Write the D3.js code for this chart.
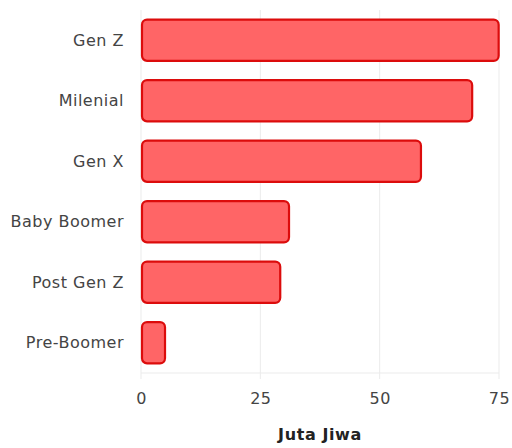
<!DOCTYPE html>
<meta charset="utf-8">
<style>
    body { margin: 0; background: #fff; }
    svg text { font-family: "DejaVu Sans", "Noto Sans", sans-serif; }
</style>
<body>
<div id="canvas"></div>
<script src="https://d3js.org/d3.v7.min.js"></script>
<script>

// generations and population (juta jiwa)
var categories = ["Gen Z", "Milenial", "Gen X", "Baby Boomer", "Post Gen Z", "Pre-Boomer"];
var values = [74.93, 69.38, 58.65, 31.01, 29.17, 5.03];
var xTicks = [0, 25, 50, 75];
var xTitle = "Juta Jiwa";

var data = categories.map(function(c, i){ return { name: c, value: values[i] }; });

var margin = {top: 10, right: 13, bottom: 75, left: 141};
var width = 512 - margin.left - margin.right,
    height = 448 - margin.top - margin.bottom;

var svg = d3.select("#canvas").append("svg")
    .attr("width", 512)
    .attr("height", 448);

var g = svg.append("g")
    .attr("transform", "translate(" + margin.left + "," + margin.top + ")");

//scales
var x = d3.scaleLinear().domain([0, 75]).range([0, 358]);
var y = d3.scaleBand().domain(categories).range([0, height]).paddingInner(0.32).paddingOuter(0.16);

// grid
g.selectAll(".vgrid")
    .data(xTicks)
    .enter().append("line")
        .attr("x1", function(d){ return x(d); })
        .attr("x2", function(d){ return x(d); })
        .attr("y1", 0)
        .attr("y2", height + 6)
        .attr("stroke", "#ebebeb")
        .attr("stroke-width", 1);

g.append("line")
    .attr("x1", 0).attr("x2", x(75))
    .attr("y1", height).attr("y2", height)
    .attr("stroke", "#ebebeb");

// bars
g.selectAll("rect.bar")
    .data(data)
    .enter().append("rect")
        .attr("class", "bar")
        .attr("x", 1)
        .attr("y", function(d){ return y(d.name); })
        .attr("width", function(d){ return x(d.value) - 1; })
        .attr("height", y.bandwidth())
        .attr("rx", 5)
        .attr("fill", "#ff6566")
        .attr("stroke", "#dc0c0c")
        .attr("stroke-width", 2.2);

// y labels
g.selectAll(".ylab")
    .data(categories)
    .enter().append("text")
        .attr("x", -17)
        .attr("y", function(d){ return y(d) + y.bandwidth() / 2; })
        .attr("dy", "0.35em")
        .attr("text-anchor", "end")
        .attr("fill", "#444")
        .style("font-size", "16px")
        .style("letter-spacing", "0.5px")
        .text(function(d){ return d; });

// x axis
var xAxis = g.append("g")
    .attr("transform", "translate(0," + height + ")")
    .call(d3.axisBottom(x).tickValues(xTicks).tickSize(0).tickPadding(20));
xAxis.select(".domain").remove();
xAxis.selectAll("text")
    .attr("fill", "#444")
    .style("font-size", "16px")
    .style("letter-spacing", "0.5px")
    .style("font-family", "\"DejaVu Sans\", sans-serif");

g.append("text")
    .attr("x", x(75) / 2)
    .attr("y", height + 67)
    .attr("text-anchor", "middle")
    .attr("fill", "#222")
    .style("font-size", "16px")
    .style("letter-spacing", "0.6px")
    .style("font-weight", "bold")
    .text(xTitle);

</script>
</body>
